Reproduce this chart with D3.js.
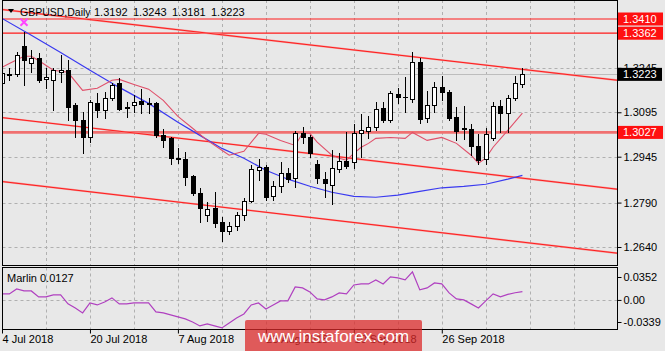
<!DOCTYPE html>
<html><head><meta charset="utf-8">
<script src="https://cdn.jsdelivr.net/npm/d3@7"></script>
<style>
body{margin:0;background:#e8e8e8;}
svg{display:block;}
text{font-family:"Liberation Sans",Arial,sans-serif;}
</style>
</head><body>
<svg id="c" width="665" height="351"></svg>
<script>
const dates = ["2018-07-04","2018-07-05","2018-07-06","2018-07-09","2018-07-10","2018-07-11","2018-07-12","2018-07-13","2018-07-16","2018-07-17",
"2018-07-18","2018-07-19","2018-07-20","2018-07-23","2018-07-24","2018-07-25","2018-07-26","2018-07-27","2018-07-30","2018-07-31",
"2018-08-01","2018-08-02","2018-08-03","2018-08-06","2018-08-07","2018-08-08","2018-08-09","2018-08-10","2018-08-13","2018-08-14",
"2018-08-15","2018-08-16","2018-08-17","2018-08-20","2018-08-21","2018-08-22","2018-08-23","2018-08-24","2018-08-27","2018-08-28",
"2018-08-29","2018-08-30","2018-08-31","2018-09-03","2018-09-04","2018-09-05","2018-09-06","2018-09-07","2018-09-10","2018-09-11",
"2018-09-12","2018-09-13","2018-09-14","2018-09-17","2018-09-18","2018-09-19","2018-09-20","2018-09-21","2018-09-24","2018-09-25",
"2018-09-26","2018-09-27","2018-09-28","2018-10-01","2018-10-02","2018-10-03","2018-10-04","2018-10-05","2018-10-08","2018-10-09",
"2018-10-10","2018-10-11"];

const open = [1.3193,1.3223,1.3223,1.3318,1.3260,1.3277,1.3206,1.3203,1.3230,1.3237,
1.3119,1.3068,1.3010,1.3125,1.3102,1.3142,1.3193,1.3112,1.3119,1.3132,
1.3125,1.3125,1.3017,1.3007,1.2940,1.2936,1.2879,1.2821,1.2747,1.2771,
1.2724,1.2693,1.2710,1.2747,1.2794,1.2899,1.2909,1.2811,1.2845,1.2889,
1.2872,1.3024,1.3010,1.2919,1.2869,1.2848,1.2902,1.2929,1.2926,1.3024,
1.3031,1.3044,1.3108,1.3068,1.3156,1.3146,1.3139,1.3264,1.3075,1.3119,
1.3179,1.3162,1.3078,1.3041,1.3038,1.2980,1.2936,1.3007,1.3115,1.3092,
1.3142,1.3192];
const high = [1.3250,1.3243,1.3297,1.3365,1.3304,1.3294,1.3243,1.3243,1.3287,1.3270,
1.3125,1.3095,1.3135,1.3159,1.3162,1.3193,1.3210,1.3129,1.3152,1.3173,
1.3142,1.3129,1.3038,1.3010,1.2973,1.2960,1.2882,1.2838,1.2791,1.2825,
1.2740,1.2724,1.2757,1.2805,1.2916,1.2936,1.2916,1.2862,1.2926,1.2906,
1.3031,1.3044,1.3017,1.2933,1.2892,1.2967,1.2956,1.3027,1.3054,1.3088,
1.3081,1.3129,1.3129,1.3166,1.3176,1.3213,1.3297,1.3277,1.3166,1.3196,
1.3216,1.3169,1.3112,1.3115,1.3054,1.3021,1.3041,1.3129,1.3135,1.3152,
1.3216,1.3243];
const low = [1.3169,1.3203,1.3216,1.3186,1.3230,1.3196,1.3176,1.3102,1.3196,1.3068,
1.3010,1.2956,1.2994,1.3078,1.3075,1.3135,1.3102,1.3078,1.3095,1.3092,
1.3092,1.3010,1.2977,1.2919,1.2923,1.2848,1.2815,1.2724,1.2727,1.2707,
1.2659,1.2683,1.2697,1.2730,1.2791,1.2865,1.2798,1.2798,1.2825,1.2859,
1.2842,1.2990,1.2943,1.2855,1.2808,1.2784,1.2892,1.2906,1.2906,1.2943,
1.3007,1.3034,1.3061,1.3061,1.3125,1.3095,1.3129,1.3058,1.3061,1.3095,
1.3135,1.3068,1.3000,1.3004,1.2950,1.2919,1.2919,1.3000,1.3027,1.3027,
1.3135,1.3181];
const close = [1.3227,1.3220,1.3287,1.3270,1.3277,1.3203,1.3213,1.3237,1.3237,1.3112,
1.3068,1.3010,1.3129,1.3102,1.3142,1.3186,1.3105,1.3108,1.3129,1.3122,
1.3122,1.3017,1.3000,1.2940,1.2938,1.2875,1.2821,1.2771,1.2767,1.2720,
1.2693,1.2710,1.2747,1.2794,1.2902,1.2909,1.2808,1.2845,1.2889,1.2869,
1.3024,1.3010,1.2956,1.2872,1.2855,1.2906,1.2929,1.2913,1.3024,1.3034,
1.3044,1.3105,1.3068,1.3159,1.3146,1.3145,1.3264,1.3071,1.3119,1.3179,
1.3162,1.3075,1.3031,1.3038,1.2980,1.2933,1.3021,1.3115,1.3092,1.3142,
1.3193,1.3223];

const blueIdx = [0,4,8,12,16,20,24,27,30,33,36,39,42,45,48,51,54,57,60,63,66,69,71];
const blueVal = [1.3412,1.3355,1.3297,1.3237,1.3179,1.3125,1.3061,1.3017,1.2973,1.2940,1.2899,1.2869,1.2845,1.2825,1.2811,1.2808,1.2815,1.2828,1.2840,1.2845,1.2852,1.2869,1.2882];

const pinkIdx = [0,1,3,4,5,7,9,11,13,15,16,18,20,22,24,26,28,30,31,33,35,36,38,40,41,42,43,45,46,47,48,49,50,51,53,55,56,58,60,62,64,65,66,67,69,71];
const pinkVal = [1.3247,1.3260,1.3284,1.3284,1.3270,1.3237,1.3230,1.3169,1.3176,1.3203,1.3206,1.3189,1.3173,1.3135,1.3081,1.3041,1.3000,1.2967,1.2950,1.2963,1.3024,1.3021,1.3000,1.2983,1.3024,1.3024,1.2994,1.2950,1.2940,1.2933,1.2956,1.2977,1.2990,1.3007,1.3010,1.3007,1.3027,1.3000,1.3010,1.2990,1.2950,1.2923,1.2940,1.2977,1.3034,1.3092];

const marlin = [0.0092,0.0092,0.0169,0.0138,0.0138,0.0046,0.0046,0.0077,0.0077,-0.0061,
-0.0123,-0.0200,-0.0046,-0.0077,-0.0031,0.0031,-0.0061,-0.0061,-0.0046,-0.0046,
-0.0046,-0.0184,-0.0200,-0.0230,-0.0261,-0.0292,-0.0338,-0.0399,-0.0369,-0.0399,
-0.0430,-0.0353,-0.0276,-0.0215,-0.0077,-0.0046,-0.0138,-0.0077,-0.0015,-0.0015,
0.0200,0.0184,0.0123,0.0015,0.0000,0.0046,0.0108,0.0092,0.0230,0.0246,
0.0246,0.0307,0.0246,0.0353,0.0338,0.0307,0.0430,0.0154,0.0184,0.0261,
0.0246,0.0108,0.0015,0.0000,-0.0061,-0.0123,-0.0015,0.0092,0.0046,0.0085,
0.0110,0.0127];

const priceTicks = [1.3245,1.3095,1.2945,1.2790,1.2640];
const levels = [1.3410,1.3362,1.3027];
const lastPrice = 1.3223;
const channelIdx = [0,84];
const channelTop = [1.3442,1.3203];
const channelMid = [1.3077,1.2835];
const channelBot = [1.2861,1.2619];
const dateTickIdx = [0,12,24,36,48,60];
const dateTickLabels = ["4 Jul 2018","20 Jul 2018","7 Aug 2018","23 Aug 2018","10 Sep 2018","26 Sep 2018"];
const marlinTicks = [0.0352,0,-0.0339];
const marlinTickLabels = ["0.0352","0.00","-0.0339"];
const gridIdx = [6,12,18,24,30,36,42,48,54,60,66,72,78];
const fractalIdx = 3;

const svg = d3.select("#c");
const W = 665, H = 351;
const L = 2.5, R = 617.5, mainTop = 0.5, mainBot = 265.5, indTop = 267.5, indBot = 329.5;

svg.append("rect").attr("width",W).attr("height",H).attr("fill","#e8e8e8");

const x = d3.scaleLinear().domain([0,84]).range([2,617.7]);
const y = d3.scaleLinear().domain([1.2640,1.3410]).range([247,19]);
const ym = d3.scaleLinear().domain([-0.0339,0.0352]).range([322,277]);
const px = i => Math.round(x(i)) + 0.5;

const defs = svg.append("defs");
defs.append("clipPath").attr("id","cm").append("rect").attr("x",L).attr("y",0).attr("width",R-L).attr("height",mainBot);
defs.append("clipPath").attr("id","ci").append("rect").attr("x",L).attr("y",indTop).attr("width",R-L).attr("height",indBot-indTop);

const gridCol = "#b0b0b0";
const gm = svg.append("g").attr("clip-path","url(#cm)");
gm.selectAll("line.v").data(gridIdx).join("line")
  .attr("x1",d=>px(d)).attr("x2",d=>px(d)).attr("y1",0).attr("y2",mainBot)
  .attr("stroke",gridCol).attr("stroke-dasharray","3,3");
gm.selectAll("line.h").data(priceTicks).join("line")
  .attr("x1",L).attr("x2",R).attr("y1",d=>Math.round(y(d))+0.5).attr("y2",d=>Math.round(y(d))+0.5)
  .attr("stroke",gridCol).attr("stroke-dasharray","3,3");
const gi = svg.append("g").attr("clip-path","url(#ci)");
gi.selectAll("line.v").data(gridIdx).join("line")
  .attr("x1",d=>px(d)).attr("x2",d=>px(d)).attr("y1",indTop).attr("y2",indBot)
  .attr("stroke",gridCol).attr("stroke-dasharray","3,3");
gi.append("line").attr("x1",L).attr("x2",R).attr("y1",Math.round(ym(0))+0.5).attr("y2",Math.round(ym(0))+0.5)
  .attr("stroke",gridCol).attr("stroke-dasharray","3,3");

gm.append("line").attr("x1",L).attr("x2",R).attr("y1",Math.round(y(lastPrice))+0.5).attr("y2",Math.round(y(lastPrice))+0.5)
  .attr("stroke","#bdbdbd").attr("stroke-width",1);

levels.forEach((v,i)=>{
  gm.append("line").attr("x1",L).attr("x2",R).attr("y1",y(v)).attr("y2",y(v))
    .attr("stroke", i<2 ? "#ff1a1a" : "#f07070").attr("stroke-width", i<2 ? 1.2 : 2.6);
});

[channelTop,channelMid,channelBot].forEach(c=>{
  const ln = d3.line().x((d,i)=>x(channelIdx[i])).y(d=>y(d));
  gm.append("path").attr("d",ln(c)).attr("fill","none").attr("stroke","#f59a9a").attr("stroke-width",1.9);
  gm.append("path").attr("d",ln(c)).attr("fill","none").attr("stroke","#ff1010").attr("stroke-width",0.9);
});

const blueLine = d3.line().x((d,i)=>x(blueIdx[i])).y(d=>y(d));
gm.append("path").attr("d",blueLine(blueVal)).attr("fill","none").attr("stroke","#3a3af0").attr("stroke-width",1.2);
const pinkLine = d3.line().x((d,i)=>x(pinkIdx[i])).y(d=>y(d));
gm.append("path").attr("d",pinkLine(pinkVal)).attr("fill","none").attr("stroke","#e0506a").attr("stroke-width",1.1);

const cg = gm.append("g");
dates.forEach((d,i)=>{
  const cx = px(i);
  cg.append("line").attr("x1",cx).attr("x2",cx).attr("y1",Math.round(y(high[i]))).attr("y2",Math.round(y(low[i]))+1)
    .attr("stroke","#000").attr("stroke-width",1);
  const o = open[i], c = close[i];
  const t = Math.round(y(Math.max(o,c))), b = Math.round(y(Math.min(o,c)));
  if (b - t < 1) {
    cg.append("line").attr("x1",cx-2.5).attr("x2",cx+2.5).attr("y1",t+0.5).attr("y2",t+0.5).attr("stroke","#000");
  } else if (c >= o) {
    cg.append("rect").attr("x",cx-2).attr("y",t+0.5).attr("width",4).attr("height",b-t)
      .attr("fill","#fff").attr("stroke","#000").attr("stroke-width",1);
  } else {
    cg.append("rect").attr("x",cx-2.5).attr("y",t).attr("width",5).attr("height",b-t+1).attr("fill","#000");
  }
});

const fxp = x(fractalIdx), fyp = y(high[fractalIdx]) - 10;
gm.append("path").attr("d",`M${fxp-3.5},${fyp-3.5}L${fxp+3.5},${fyp+3.5}M${fxp+3.5},${fyp-3.5}L${fxp-3.5},${fyp+3.5}`)
  .attr("stroke","#ff44ff").attr("stroke-width",2).attr("fill","none");

const ml = d3.line().x((d,i)=>x(i)).y(d=>ym(d));
gi.append("path").attr("d",ml(marlin)).attr("fill","none").attr("stroke","#b040c0").attr("stroke-width",1.2);

svg.append("rect").attr("x",L).attr("y",mainTop).attr("width",R-L).attr("height",mainBot-mainTop).attr("fill","none").attr("stroke","#000");
svg.append("rect").attr("x",L).attr("y",indTop).attr("width",R-L).attr("height",indBot-indTop).attr("fill","none").attr("stroke","#000");

const ay = svg.append("g").attr("transform",`translate(${R},0)`)
  .call(d3.axisRight(y).tickValues(priceTicks).tickFormat(d3.format(".4f")).tickSize(4).tickPadding(2));
ay.select(".domain").remove();
ay.selectAll("text").attr("font-size",11).attr("fill","#000").attr("font-family","Liberation Sans, Arial, sans-serif");
ay.selectAll("line").attr("stroke","#000");

const am = svg.append("g").attr("transform",`translate(${R},0)`)
  .call(d3.axisRight(ym).tickValues(marlinTicks).tickFormat((d,i)=>marlinTickLabels[i]).tickSize(4).tickPadding(2));
am.select(".domain").remove();
am.selectAll("text").attr("font-size",11).attr("fill","#000").attr("font-family","Liberation Sans, Arial, sans-serif");
am.selectAll("line").attr("stroke","#000");

const ax = svg.append("g").attr("transform",`translate(0,${indBot})`)
  .call(d3.axisBottom(x).tickValues(dateTickIdx).tickFormat((d,i)=>dateTickLabels[i]).tickSize(4).tickPadding(2));
ax.select(".domain").remove();
ax.selectAll("text").attr("font-size",11).attr("fill","#000").attr("text-anchor","start").attr("font-family","Liberation Sans, Arial, sans-serif");
ax.selectAll("line").attr("stroke","#000");

levels.forEach(v=>{
  const yy = y(v);
  svg.append("rect").attr("x",618).attr("y",yy-6.5).attr("width",45).attr("height",13).attr("fill","#ff1010");
  svg.append("text").attr("x",623).attr("y",yy+4).attr("font-size",11).attr("fill","#fff").text(v.toFixed(4));
});
{
  const yy = y(lastPrice);
  svg.append("rect").attr("x",617).attr("y",yy-6.5).attr("width",45).attr("height",13).attr("fill","#000");
  svg.append("text").attr("x",623).attr("y",yy+4).attr("font-size",11).attr("fill","#fff").text(lastPrice.toFixed(4));
}

svg.append("path").attr("d","M8,9L14,9L11,13Z").attr("fill","#000");
svg.append("text").attr("x",20).attr("y",16).attr("font-size",10.5).attr("fill","#000").text("GBPUSD,Daily");
[open[71],high[71],low[71],close[71]].forEach((v,i)=>{
  svg.append("text").attr("x",94+i*39).attr("y",16).attr("font-size",11).attr("fill","#000").text(v.toFixed(4));
});
svg.append("text").attr("x",7).attr("y",282).attr("font-size",11).attr("fill","#000").text("Marlin " + marlin[71].toFixed(4));

svg.append("rect").attr("x",245).attr("y",320).attr("width",177).attr("height",33).attr("rx",2)
  .attr("fill","rgb(220,40,40)").attr("fill-opacity",0.74);
svg.append("text").attr("x",333.5).attr("y",342).attr("text-anchor","middle").attr("font-size",17).attr("fill","#fff").text("www.instaforex.com");
</script>
</body></html>
